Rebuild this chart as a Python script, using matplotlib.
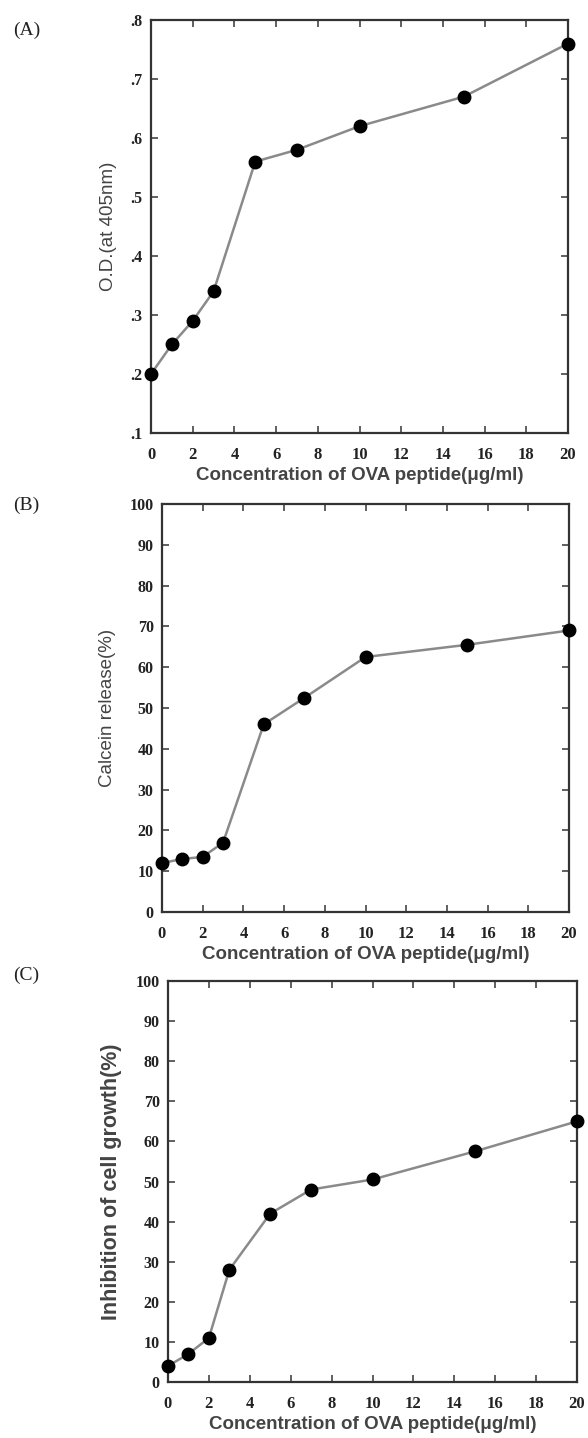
import numpy as np
import matplotlib.pyplot as plt

# data
conc = [0, 1, 2, 3, 5, 7, 10, 15, 20]
od_405 = [0.20, 0.25, 0.29, 0.34, 0.56, 0.58, 0.62, 0.67, 0.76]
calcein = [12, 13, 13.5, 17, 46, 52.5, 62.5, 65.5, 69]
inhibition = [4, 7, 11, 28, 42, 48, 50.5, 57.5, 65]

x_ticks = [0, 2, 4, 6, 8, 10, 12, 14, 16, 18, 20]
od_ticks = [0.1, 0.2, 0.3, 0.4, 0.5, 0.6, 0.7, 0.8]
od_labels = ['.1', '.2', '.3', '.4', '.5', '.6', '.7', '.8']
pct_ticks = [0, 10, 20, 30, 40, 50, 60, 70, 80, 90, 100]

xlabel = 'Concentration of OVA peptide(\u03bcg/ml)'

fig = plt.figure(figsize=(5.88, 14.38), dpi=100)

W, H = 588, 1438
def box(l, r, t, b):
    return [l / W, (H - b) / H, (r - l) / W, (b - t) / H]

panels = [
    ('(A)', box(151, 568, 20, 433), od_405, (0.1, 0.8), od_ticks, od_labels,
     'O.D.(at 405nm)', 13.5, 'normal', 30),
    ('(B)', box(162, 569, 504, 912), calcein, (0, 100), pct_ticks,
     [str(t) for t in pct_ticks], 'Calcein release(%)', 13.5, 'normal', 505),
    ('(C)', box(168, 577, 981, 1382), inhibition, (0, 100), pct_ticks,
     [str(t) for t in pct_ticks], 'Inhibition of cell growth(%)', 15.5,
     'bold', 975),
]

for tag, rect, y, ylim, yt, ytl, ylab, ysize, yweight, tag_y in panels:
    ax = fig.add_axes(rect)
    ax.plot(conc, y, '-', color='#8a8a8a', lw=1.8, zorder=2)
    ax.plot(conc, y, 'o', color='black', ms=9, zorder=3, clip_on=False)
    ax.set_xlim(0, 20)
    ax.set_ylim(*ylim)
    ax.set_xticks(x_ticks)
    ax.set_xticklabels([str(t) for t in x_ticks], family='Liberation Serif',
                       fontsize=12, fontweight='bold', color='#222222')
    ax.set_yticks(yt)
    ax.set_yticklabels(ytl, family='Liberation Serif', fontsize=11.5,
                       fontweight='bold', color='#222222')
    ax.tick_params(direction='in', top=True, right=True, length=5,
                   width=1.2, color='#444444')
    ax.tick_params(axis='x', pad=10)
    ax.tick_params(axis='y', pad=6)
    for s in ax.spines.values():
        s.set_linewidth(1.6)
        s.set_color('#333333')
    ax.set_xlabel(xlabel, family='Liberation Sans', fontsize=13.5,
                  fontweight='bold', color='#444444', labelpad=3)
    ax.set_ylabel(ylab, family='Liberation Sans', fontsize=ysize,
                  fontweight=yweight, color='#444444', labelpad=10)
    fig.text(13 / W, 1 - tag_y / H, tag, family='Liberation Serif',
             fontsize=14, color='#222222', va='center', ha='left')

fig.savefig('out.png', dpi=100)
